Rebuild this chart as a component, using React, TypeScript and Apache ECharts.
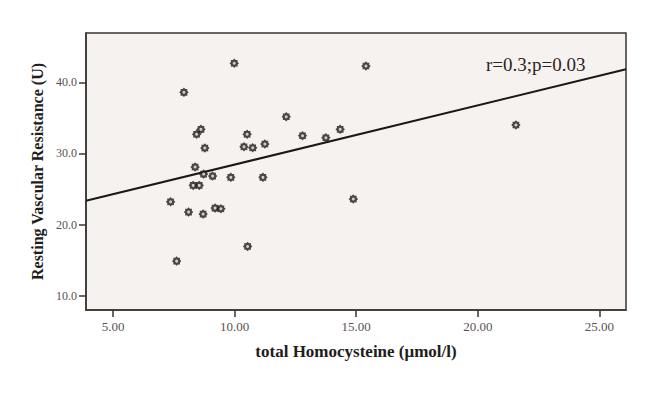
import React, { useEffect, useRef } from "react";
import * as echarts from "echarts";

// total Homocysteine (µmol/l)
const hcyValues = [
  9.98, 15.4, 7.91, 8.61, 8.43, 12.12, 10.51, 12.79, 13.75, 14.34,
  8.77, 10.38, 10.74, 11.24, 8.37, 8.72, 9.09, 9.84, 11.16, 8.29,
  8.54, 7.36, 8.1, 8.7, 9.19, 9.43, 10.53, 7.61, 14.88, 21.57,
];
// Resting Vascular Resistance (U)
const rvrValues = [
  42.67, 42.29, 38.59, 33.39, 32.69, 35.16, 32.69, 32.49, 32.21, 33.39,
  30.76, 30.94, 30.8, 31.32, 28.09, 27.1, 26.82, 26.64, 26.64, 25.51,
  25.51, 23.21, 21.76, 21.48, 22.32, 22.22, 16.93, 14.87, 23.59, 34.0,
];
// regression line end points
const fitX = [3.88, 26.1];
const fitY = [23.35, 41.83];

const xTicks = [5, 10, 15, 20, 25];
const yTicks = [10, 20, 30, 40];
const statText = "r=0.3;p=0.03";

const GEAR =
  "path://M20 10L16.93 12.87L17.07 17.07L12.87 16.93L10 20L7.13 16.93L2.93 17.07L3.07 12.87L0 10L3.07 7.13L2.93 2.93L7.13 3.07L10 0L12.87 3.07L17.07 2.93L16.93 7.13Z";

const SERIF = "'Liberation Serif', 'DejaVu Serif', serif";
const AXIS = "#3b3431";
const BG = "#f6f2ef";

export default function App() {
  const ref = useRef<HTMLDivElement>(null);
  useEffect(() => {
    if (!ref.current) return;
    const chart = echarts.init(ref.current, undefined, { renderer: "svg" });
    const pts = hcyValues.map((x, i) => [x, rvrValues[i]]);
    chart.setOption({
      animation: false,
      backgroundColor: "#ffffff",
      grid: { left: 86, top: 33, right: 34, bottom: 84, show: true, backgroundColor: BG, borderColor: AXIS, borderWidth: 1.5 },
      xAxis: {
        type: "value",
        min: 3.88,
        max: 26.1,
        name: "total Homocysteine (μmol/l)",
        nameLocation: "middle",
        nameGap: 33,
        nameTextStyle: { fontFamily: SERIF, fontWeight: "bold", fontSize: 17, color: "#221c1a" },
        axisLine: { show: true, lineStyle: { color: AXIS, width: 1.5 } },
        axisTick: { show: true, length: 7, lineStyle: { color: AXIS, width: 1.5 }, customValues: xTicks },
        axisLabel: {
          customValues: xTicks,
          formatter: (v: number) => v.toFixed(2),
          fontFamily: SERIF,
          fontSize: 13,
          color: "#5a5250",
          margin: 10,
        },
        splitLine: { show: false },
      },
      yAxis: {
        type: "value",
        min: 8,
        max: 46.93,
        name: "Resting Vascular Resistance (U)",
        nameLocation: "middle",
        nameGap: 38,
        nameTextStyle: { fontFamily: SERIF, fontWeight: "bold", fontSize: 16, color: "#221c1a" },
        axisLine: { show: true, lineStyle: { color: AXIS, width: 1.5 } },
        axisTick: { show: true, length: 7, lineStyle: { color: AXIS, width: 1.5 }, customValues: yTicks },
        axisLabel: {
          customValues: yTicks,
          formatter: (v: number) => v.toFixed(1),
          fontFamily: SERIF,
          fontSize: 12,
          color: "#5a5250",
          margin: 9,
        },
        splitLine: { show: false },
      },
      series: [
        {
          type: "line",
          data: fitX.map((x, i) => [x, fitY[i]]),
          showSymbol: false,
          symbol: "none",
          lineStyle: { color: "#1c1816", width: 2 },
          z: 2,
        },
        {
          type: "scatter",
          data: pts,
          symbol: GEAR,
          symbolSize: 9.5,
          itemStyle: { color: "#1f1a18" },
          z: 3,
        },
        {
          type: "scatter",
          data: pts,
          symbol: "circle",
          symbolSize: 3,
          itemStyle: { color: BG },
          z: 4,
        },
      ],
      graphic: [
        {
          type: "text",
          left: 486,
          top: 55,
          style: { text: statText, font: `19px ${SERIF}`, fill: "#2a2422" },
        },
      ],
    });
    return () => chart.dispose();
  }, []);
  return (
    <div
      ref={ref}
      style={{ position: "fixed", left: 0, top: 0, width: 660, height: 394, background: "#fff" }}
    />
  );
}
